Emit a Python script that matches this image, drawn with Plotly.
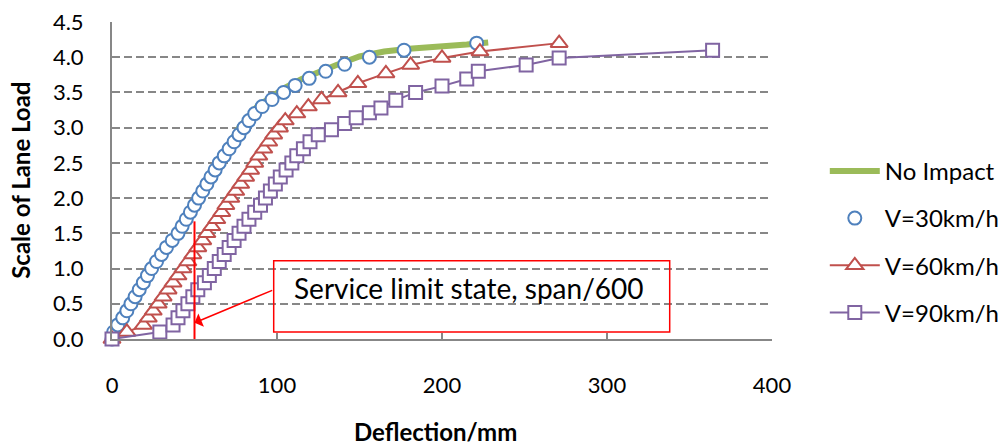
import plotly.graph_objects as go

# ---------------- data ----------------
no_impact_x = [0, 12, 24, 38, 51, 63, 77, 88, 97, 105, 115, 125, 136, 150, 165, 180, 195, 215, 228]
no_impact_y = [0, 0.5, 1.0, 1.5, 2.0, 2.5, 3.0, 3.3, 3.45, 3.57, 3.69, 3.79, 3.89, 4.01, 4.08, 4.12, 4.14, 4.18, 4.21]

v30_y = [0, 0.1, 0.2, 0.3, 0.4, 0.5, 0.6, 0.7, 0.8, 0.9, 1.0, 1.1, 1.2, 1.3, 1.4, 1.5, 1.6, 1.7, 1.8, 1.9,
         2.0, 2.1, 2.2, 2.3, 2.4, 2.5, 2.6, 2.7, 2.8, 2.9, 3.0, 3.1, 3.2, 3.3, 3.4, 3.5, 3.6, 3.7, 3.8, 3.9,
         4.0, 4.1, 4.2]
v30_x = [0, 1, 3.5, 6.5, 9, 11.5, 14, 16.5, 19, 21.5, 24, 27, 30, 33, 36.5, 40, 42.5, 45, 47.5, 50,
         52.5, 55, 57.5, 60, 62.5, 65, 68, 71, 74, 77, 80, 83, 86.5, 91, 97, 104, 111, 119.5, 129.5, 141,
         156, 177, 221]

v60_y = [0, 0.1, 0.2, 0.3, 0.4, 0.5, 0.6, 0.7, 0.8, 0.9, 1.0, 1.1, 1.2, 1.3, 1.4, 1.5, 1.6, 1.7, 1.8, 1.9,
         2.0, 2.1, 2.2, 2.3, 2.4, 2.5, 2.6, 2.7, 2.8, 2.9, 3.0, 3.1, 3.2, 3.3, 3.4, 3.5, 3.63, 3.77, 3.89,
         3.99, 4.08, 4.2]
v60_x = [0, 9, 19, 22, 25, 28, 31, 34, 37, 40, 43, 46, 49, 52, 55, 57.5, 60.5, 63.5, 66.5, 69,
         72, 75, 78, 81, 84, 86.5, 89, 92, 95, 98, 101.5, 105, 112, 119, 127, 137, 149, 166, 181,
         200, 223, 271]

v90_y = [0, 0.1, 0.2, 0.3, 0.4, 0.5, 0.6, 0.7, 0.8, 0.9, 1.0, 1.1, 1.2, 1.3, 1.4, 1.5, 1.6, 1.7, 1.8, 1.9,
         2.0, 2.1, 2.2, 2.3, 2.4, 2.5, 2.6, 2.7, 2.8, 2.9, 2.97, 3.06, 3.14, 3.21, 3.28, 3.39, 3.5, 3.59,
         3.69, 3.8, 3.89, 3.99, 4.1]
v90_x = [0, 29, 37, 40, 43, 46, 49, 52, 56, 59, 62, 65, 68, 71, 74, 77, 80, 83, 86.5, 90,
         93, 96, 99, 102, 105.5, 109, 112, 116, 120, 125, 133, 141, 148, 156, 163, 172, 184, 200,
         215, 222, 251, 271, 364]

x_ticks = [0, 100, 200, 300, 400]
y_ticks = [0, 0.5, 1.0, 1.5, 2.0, 2.5, 3.0, 3.5, 4.0, 4.5]

limit_deflection = 50      # span/600
limit_line_top = 1.67

FONT = "Lato"
GRID = "#878787"

fig = go.Figure()

fig.add_trace(go.Scatter(
    x=no_impact_x, y=no_impact_y, name="No Impact", mode="lines",
    line=dict(color="#9BBB59", width=6), legendgroup="a", cliponaxis=False))
fig.add_trace(go.Scatter(
    x=v30_x, y=v30_y, name="V=30km/h", mode="markers",
    marker=dict(symbol="circle", size=13, color="white", line=dict(color="#4F81BD", width=2)),
    legendgroup="b", cliponaxis=False))
fig.add_trace(go.Scatter(
    x=v60_x, y=v60_y, name="V=60km/h", mode="lines+markers",
    line=dict(color="#C0504D", width=2),
    marker=dict(symbol="triangle-up", size=15, color="white", line=dict(color="#C0504D", width=2)),
    legendgroup="c", cliponaxis=False))
fig.add_trace(go.Scatter(
    x=v90_x, y=v90_y, name="V=90km/h", mode="lines+markers",
    line=dict(color="#8064A2", width=2),
    marker=dict(symbol="square", size=13, color="white", line=dict(color="#8064A2", width=2)),
    legendgroup="d", cliponaxis=False))

# service limit state marker line
fig.add_shape(type="line", xref="x", yref="y", x0=limit_deflection, x1=limit_deflection,
              y0=0, y1=limit_line_top, line=dict(color="#FF0000", width=2))
# annotation box
fig.add_shape(type="rect", xref="x", yref="y", x0=98, x1=338, y0=0.1, y1=1.11,
              line=dict(color="#FF0000", width=1.5), fillcolor="rgba(0,0,0,0)")
fig.add_annotation(x=109, y=0.995, xref="x", yref="y", text="Service limit state, span/600",
                   showarrow=False, xanchor="left", yanchor="top",
                   font=dict(family=FONT, size=28, color="black"))
fig.add_annotation(x=limit_deflection, y=0.23, xref="x", yref="y", ax=98, ay=0.7,
                   axref="x", ayref="y", text="", showarrow=True, arrowhead=1,
                   arrowsize=1.6, arrowwidth=1.5, arrowcolor="#FF0000")

# axis titles
fig.add_annotation(x=0.49, y=-0.293, xref="paper", yref="paper", text="<b>Deflection/mm</b>",
                   showarrow=False, xanchor="center", yanchor="middle",
                   font=dict(family=FONT, size=24, color="black"))
fig.add_annotation(x=-0.139, y=0.5, xref="paper", yref="paper", text="<b>Scale of Lane Load</b>",
                   showarrow=False, textangle=-90, xanchor="center", yanchor="middle",
                   font=dict(family=FONT, size=24, color="black"))

fig.update_layout(
    width=1001, height=445,
    margin=dict(l=112, r=229, t=22, b=106, autoexpand=False),
    paper_bgcolor="white", plot_bgcolor="white",
    font=dict(family=FONT, size=22, color="black"),
    showlegend=True,
    legend=dict(x=1.08, y=0.6, xanchor="left", yanchor="top", font=dict(size=24, color="black"),
                tracegroupgap=13, itemwidth=50, bgcolor="rgba(0,0,0,0)"),
    xaxis=dict(range=[0, 400], tickvals=x_ticks, showgrid=False, zeroline=False,
               showline=True, linecolor=GRID, linewidth=2, ticks="inside", ticklen=6,
               tickcolor=GRID, tickwidth=1.5, ticklabelstandoff=26,
               tickfont=dict(size=22, color="black")),
    yaxis=dict(range=[0, 4.5], tickvals=y_ticks, tickformat=".1f", showgrid=True,
               gridcolor=GRID, gridwidth=1.5, griddash="8px,4px", zeroline=False,
               showline=True, linecolor=GRID, linewidth=2, ticks="", ticklabelstandoff=22,
               tickfont=dict(size=22, color="black")),
)

fig.write_html("out.html")
